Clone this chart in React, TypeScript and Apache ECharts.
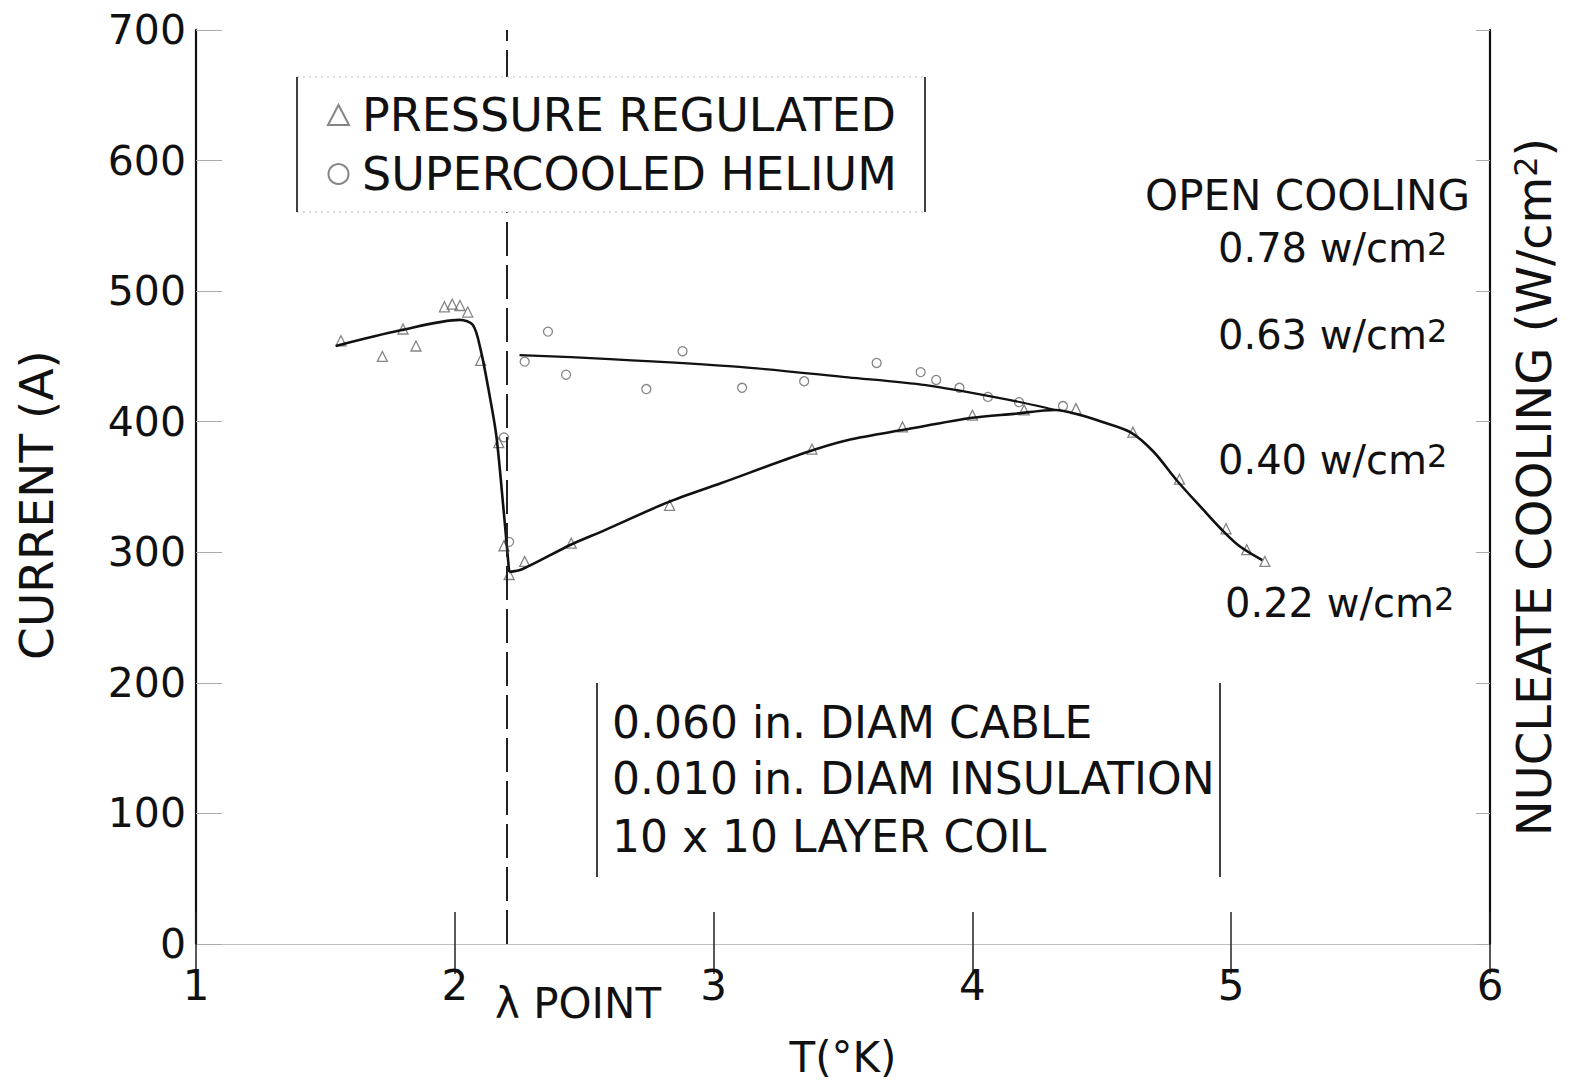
import { useEffect, useRef } from "react";
import * as echarts from "echarts";

// Temperature / current readings (T in °K, I in A)
const descentT = [1.54, 1.79, 2.02, 2.07, 2.1, 2.13, 2.16, 2.185, 2.21];
const descentI = [458, 470, 478, 474, 455, 425, 390, 340, 285];

const lowerT = [2.21, 2.26, 2.45, 2.58, 2.82, 3.03, 3.35, 3.52, 3.74, 4.0, 4.16, 4.32, 4.42, 4.5, 4.61, 4.7, 4.79, 4.89, 4.96, 5.03, 5.12];
const lowerI = [285, 287, 306, 317, 338, 353, 376, 386, 394, 403, 406, 409, 405, 400, 392, 377, 355, 333, 318, 305, 294];

const upperT = [2.25, 2.6, 3.1, 3.52, 3.82, 4.16, 4.32];
const upperI = [451, 448, 442, 434, 428, 416, 409];

const pressureT = [1.56, 1.72, 1.8, 1.85, 1.96, 1.99, 2.02, 2.05, 2.1, 2.17, 2.19, 2.21, 2.27, 2.45, 2.83, 3.38, 3.73, 4.0, 4.2, 4.4, 4.62, 4.8, 4.98, 5.06, 5.13];
const pressureI = [462, 450, 471, 458, 488, 490, 489, 484, 447, 384, 305, 283, 293, 307, 336, 379, 396, 405, 409, 410, 392, 356, 318, 302, 293];

const supercooledT = [2.19, 2.21, 2.27, 2.36, 2.43, 2.74, 2.88, 3.11, 3.35, 3.63, 3.8, 3.86, 3.95, 4.06, 4.18, 4.35];
const supercooledI = [388, 308, 446, 469, 436, 425, 454, 426, 431, 445, 438, 432, 426, 419, 415, 412];

// lambda point of helium, drawn as a dashed vertical line
const LAMBDA_T = 2.2;

const legendNames = ["PRESSURE REGULATED", "SUPERCOOLED HELIUM"];
const coilNotes = ["0.060 in. DIAM CABLE", "0.010 in. DIAM INSULATION", "10 x 10 LAYER COIL"];
const fluxNotes = ["0.78", "0.63", "0.40", "0.22"];

const FONT = "'DejaVu Sans', sans-serif";
const INK = "#111";

const zip = (xs: number[], ys: number[]) => xs.map((x, i) => [x, ys[i]]);

export default function App() {
  const ref = useRef<HTMLDivElement>(null);

  useEffect(() => {
    if (!ref.current) return;
    const chart = echarts.init(ref.current, undefined, { renderer: "svg" });

    const curveStyle = { color: INK, width: 2.6 };
    const markerStyle = { color: "transparent", borderColor: "#666", borderWidth: 1.3 };

    const fluxY = [248, 335, 460, 603];
    const fluxX = [1218, 1218, 1218, 1225];
    const faint = { stroke: "#b5b5b5", lineWidth: 1, lineDash: [2, 4] };

    const graphic: any[] = [
      // legend panel: white backing (above the markLine's z of 5) so the lambda line stops at its edges
      { type: "rect", z: 6, shape: { x: 297, y: 77, width: 628, height: 135 }, style: { fill: "#fff" } },
      { type: "line", z: 6, shape: { x1: 297, y1: 77, x2: 925, y2: 77 }, style: faint },
      { type: "line", z: 6, shape: { x1: 297, y1: 212, x2: 925, y2: 212 }, style: faint },
      { type: "line", z: 6, shape: { x1: 297, y1: 77, x2: 297, y2: 212 }, style: { stroke: INK, lineWidth: 1.6 } },
      { type: "line", z: 6, shape: { x1: 925, y1: 77, x2: 925, y2: 212 }, style: { stroke: INK, lineWidth: 1.6 } },
      // coil description panel
      { type: "line", shape: { x1: 597, y1: 683, x2: 597, y2: 877 }, style: { stroke: INK, lineWidth: 1.6 } },
      { type: "line", shape: { x1: 1220, y1: 683, x2: 1220, y2: 877 }, style: { stroke: INK, lineWidth: 1.6 } },
      ...coilNotes.map((t, i) => ({
        type: "text",
        x: 612,
        y: [722, 778, 836][i],
        style: { text: t, fontSize: 44, fontFamily: FONT, fill: INK, textAlign: "left", textVerticalAlign: "middle" },
      })),
      {
        type: "text",
        x: 1470,
        y: 195,
        style: { text: "OPEN COOLING", fontSize: 42, fontFamily: FONT, fill: INK, textAlign: "right", textVerticalAlign: "middle" },
      },
      ...fluxNotes.map((v, i) => ({
        type: "text",
        x: fluxX[i],
        y: fluxY[i],
        style: {
          text: `${v} w/cm{s|2}`,
          fontSize: 40,
          fontFamily: FONT,
          fill: INK,
          textAlign: "left",
          textVerticalAlign: "middle",
          rich: { s: { fontSize: 32, fontFamily: FONT, fill: INK, verticalAlign: "top" } },
        },
      })),
      {
        type: "text",
        x: 495,
        y: 1003,
        style: { text: "λ POINT", fontSize: 42, fontFamily: FONT, fill: INK, textAlign: "left", textVerticalAlign: "middle" },
      },
    ];

    const option: any = {
      animation: false,
      backgroundColor: "#fff",
      grid: { left: 196, right: 81, top: 30, bottom: 142, containLabel: false },
      legend: {
        data: legendNames,
        z: 10,
        left: 322,
        top: 87,
        orient: "vertical",
        itemGap: 13,
        itemWidth: 21,
        itemHeight: 20,
        textStyle: { fontSize: 46, fontFamily: FONT, color: INK, padding: [0, 0, 0, 8] },
      },
      xAxis: [
        {
          type: "value",
          min: 1,
          max: 6,
          interval: 1,
          name: "T(°K)",
          nameLocation: "middle",
          nameGap: 92,
          nameTextStyle: { fontSize: 42, fontFamily: FONT, color: INK },
          axisLine: { show: true, lineStyle: { color: "#bbb", type: "dotted", width: 1 } },
          axisTick: { show: true, inside: true, length: 32, lineStyle: { color: "#222", width: 1.5 } },
          axisLabel: { fontSize: 42, fontFamily: FONT, color: INK, margin: 20 },
          splitLine: { show: false },
        },
        {
          type: "value",
          position: "top",
          min: 1,
          max: 6,
          interval: 1,
          axisLine: { show: true, lineStyle: { color: "#bbb", type: "dotted", width: 1 } },
          axisTick: { show: true, inside: true, length: 30, lineStyle: { color: "#222", width: 1.5 } },
          axisLabel: { show: false },
          splitLine: { show: false },
        },
      ],
      yAxis: [
        {
          type: "value",
          min: 0,
          max: 700,
          interval: 100,
          name: "CURRENT (A)",
          nameLocation: "middle",
          nameGap: 136,
          nameTextStyle: { fontSize: 47, fontFamily: FONT, color: INK, padding: [0, 36, 0, 0] },
          axisLine: { show: true, lineStyle: { color: INK, width: 2.2 } },
          axisTick: { show: true, inside: true, length: 26, lineStyle: { color: "#aaa", width: 1 } },
          axisLabel: { fontSize: 41, fontFamily: FONT, color: INK, margin: 10 },
          splitLine: { show: false },
        },
        {
          type: "value",
          position: "right",
          min: 0,
          max: 700,
          interval: 100,
          name: "NUCLEATE COOLING (W/cm{s|2})",
          nameLocation: "middle",
          nameGap: 20,
          nameTextStyle: {
            fontSize: 48,
            fontFamily: FONT,
            color: INK,
            rich: { s: { fontSize: 32, fontFamily: FONT, color: INK, verticalAlign: "top" } },
          },
          axisLine: { show: true, lineStyle: { color: INK, width: 2.2 } },
          axisTick: { show: true, inside: true, length: 14, lineStyle: { color: "#aaa", width: 1 } },
          axisLabel: { show: false },
          splitLine: { show: false },
        },
      ],
      series: [
        {
          name: "descent",
          type: "line",
          data: zip(descentT, descentI),
          smooth: 0.3,
          showSymbol: false,
          lineStyle: curveStyle,
          silent: true,
          markLine: {
            silent: true,
            symbol: ["none", "none"],
            label: { show: false },
            lineStyle: { color: "#222", width: 2, type: [34, 9] },
            data: [{ xAxis: LAMBDA_T }],
          },
        },
        {
          name: "pressure curve",
          type: "line",
          data: zip(lowerT, lowerI),
          smooth: 0.3,
          showSymbol: false,
          lineStyle: curveStyle,
          silent: true,
        },
        {
          name: "supercooled curve",
          type: "line",
          data: zip(upperT, upperI),
          smooth: 0.3,
          showSymbol: false,
          lineStyle: { color: INK, width: 2.2 },
          silent: true,
        },
        {
          name: legendNames[0],
          type: "scatter",
          symbol: "triangle",
          symbolSize: 10,
          data: zip(pressureT, pressureI),
          itemStyle: markerStyle,
        },
        {
          name: legendNames[1],
          type: "scatter",
          symbol: "circle",
          symbolSize: 9,
          data: zip(supercooledT, supercooledI),
          itemStyle: markerStyle,
        },
      ],
      graphic,
    };

    chart.setOption(option);
    return () => chart.dispose();
  }, []);

  return (
    <div
      ref={ref}
      style={{ position: "fixed", left: 0, top: 0, width: 1571, height: 1086, background: "#fff" }}
    />
  );
}
